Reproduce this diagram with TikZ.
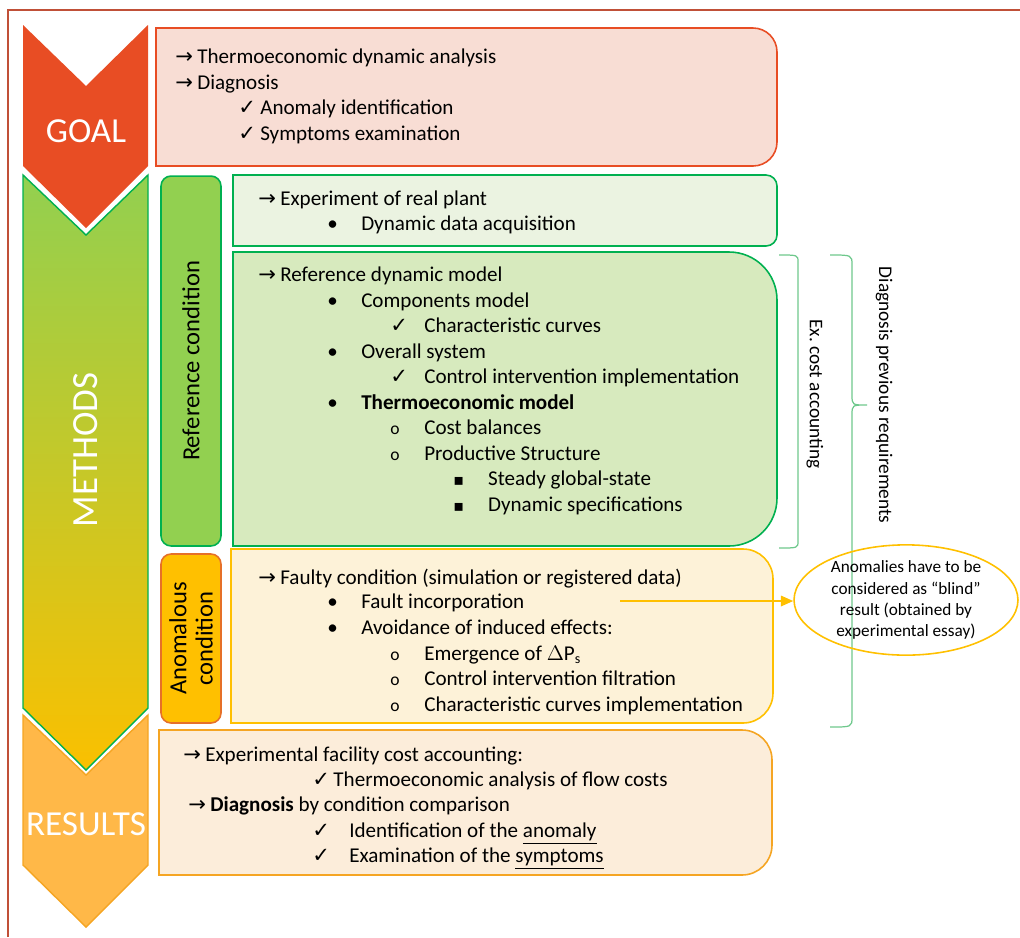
\documentclass[tikz,border=0pt]{standalone}
\usepackage{fontspec}
\setmainfont{Carlito}
\newfontfamily\symfont{DejaVu Sans}
\usetikzlibrary{%
  calc,
  positioning,
  shapes.geometric,
  arrows.meta,
}

\definecolor{framered}{RGB}{192,80,56}
\definecolor{goalred}{RGB}{232,77,36}
\definecolor{goalfill}{RGB}{248,221,212}
\definecolor{methgreen}{RGB}{146,208,80}
\definecolor{methmid}{RGB}{190,200,45}
\definecolor{methyellow}{RGB}{250,192,0}
\definecolor{darkgreen}{RGB}{0,176,80}
\definecolor{expfill}{RGB}{235,243,225}
\definecolor{modelfill}{RGB}{215,234,190}
\definecolor{anomyellow}{RGB}{255,192,0}
\definecolor{anomfill}{RGB}{253,242,216}
\definecolor{anomedge}{RGB}{230,112,40}
\definecolor{resorange}{RGB}{255,184,72}
\definecolor{resedge}{RGB}{245,165,35}
\definecolor{resfill}{RGB}{252,237,218}
\definecolor{bracegreen}{RGB}{110,200,140}

% list markers
\newcommand{\mk}[2]{\makebox[#1][l]{#2}}
\newcommand{\arr}{\mk{12.5pt}{\symfont →}}
\newcommand{\chk}{{\symfont ✓}}
\newcommand{\sqb}{{\symfont\fontsize{9}{10}\selectfont ▪}}
\newcommand{\circb}{{\fontsize{10}{12}\selectfont o}}

% box with square left corners and rounded right corners
% #1 style, #2 x left, #3 y top, #4 x right, #5 y bottom, #6 radius
\newcommand{\rbox}[6]{%
  \draw[#1] (#2,#3) -- ({#4-#6},#3)
    .. controls ({#4-0.448*#6},#3) and (#4,{#3+0.448*#6}) .. (#4,{#3+#6})
    -- (#4,{#5-#6})
    .. controls (#4,{#5-0.448*#6}) and ({#4-0.448*#6},#5) .. ({#4-#6},#5)
    -- (#2,#5) -- cycle;}

\begin{document}
\begin{tikzpicture}[
    x = 0.02cm, y = -0.02cm,
    line/.style = {anchor = base west, inner sep = 0pt,
                   font = \fontsize{12}{14}\selectfont},
    stage/.style = {text = white, inner sep = 0pt,
                    font = \fontsize{20}{22}\selectfont},
    tag/.style = {draw, line width = 0.9pt, rounded corners = 0.2cm,
                  rotate = 90, align = center, inner sep = 0pt,
                  minimum height = 1.2cm,
                  font = \fontsize{14}{15}\selectfont},
    side/.style = {inner sep = 0pt, rotate = -90,
                   font = \fontsize{11}{12}\selectfont},
  ]
  \useasboundingbox (0,0) rectangle (1020,937);

  % frame
  \draw[framered, line width = 1.1pt] (8,937) -- (8,10) -- (1020,10);

  % stage chevrons
  \fill[goalred] (23,25) -- (86,86) -- (148,25) -- (148,166)
    -- (86,228) -- (23,166) -- cycle;
  \draw[darkgreen, line width = 0.8pt, top color = methgreen,
        middle color = methmid, bottom color = methyellow]
    (23,175) -- (86,235) -- (148,175) -- (148,708)
    -- (86,770) -- (23,708) -- cycle;
  \draw[resedge, line width = 0.8pt, fill = resorange]
    (23,715) -- (86,775) -- (148,715) -- (148,865)
    -- (86,927) -- (23,865) -- cycle;

  \node[stage] (goal) at (86,131) {GOAL};
  \node[stage, rotate = 90, font = \fontsize{21}{23}\selectfont]
    (methods) at (86,450) {METHODS};
  \node[stage] (results) at (86,824) {RESULTS};

  % condition tags
  \node[tag, fill = methgreen, draw = darkgreen, minimum width = 7.4cm]
    (refcond) at (191,361) {Reference condition};
  \node[tag, fill = anomyellow, draw = anomedge, minimum width = 3.38cm]
    (anomcond) at (191,638.5) {Anomalous\\condition};

  % content boxes
  \rbox{goalred, fill = goalfill, line width = 0.9pt}{156}{28}{777}{166}{24}
  \rbox{darkgreen, fill = expfill, line width = 0.9pt}{233}{175}{777}{246}{11}
  \rbox{darkgreen, fill = modelfill, line width = 0.9pt}{233}{252}{777}{546}{48}
  \rbox{anomyellow, fill = anomfill, line width = 0.9pt}{231}{549}{773}{723}{30}
  \rbox{resedge, fill = resfill, line width = 0.9pt}{159}{730}{772}{875}{30}

  % goal
  \node[line] (goal1) at (175,63) {\arr Thermoeconomic dynamic analysis};
  \node[line] (goal2) at (175,89) {\arr Diagnosis};
  \node[line] (goal3) at (238,114) {\mk{12.5pt}{\chk}Anomaly identification};
  \node[line] (goal4) at (238,140) {\mk{12.5pt}{\chk}Symptoms examination};

  % experiment
  \node[line] (exp1) at (258,205) {\arr Experiment of real plant};
  \node[line] (exp2) at (327,230) {\mk{19.3pt}{•}Dynamic data acquisition};

  % reference model
  \node[line] (ref1) at (258,281) {\arr Reference dynamic model};
  \node[line] (ref2) at (327,307) {\mk{19.3pt}{•}Components model};
  \node[line] (ref3) at (390,332) {\mk{19.3pt}{\chk}Characteristic curves};
  \node[line] (ref4) at (327,358) {\mk{19.3pt}{•}Overall system};
  \node[line] (ref5) at (390,383) {\mk{19.3pt}{\chk}Control intervention implementation};
  \node[line] (ref6) at (327,409) {\mk{19.3pt}{•}\textbf{Thermoeconomic model}};
  \node[line] (ref7) at (390,434) {\mk{19.3pt}{\circb}Cost balances};
  \node[line] (ref8) at (390,460) {\mk{19.3pt}{\circb}Productive Structure};
  \node[line] (ref9) at (453,485) {\mk{19.8pt}{\sqb}Steady global-state};
  \node[line] (ref10) at (453,511) {\mk{19.8pt}{\sqb}Dynamic specifications};

  % faulty condition
  \node[line] (fault1) at (258,584) {\arr Faulty condition (simulation or registered data)};
  \node[line] (fault2) at (327,608) {\mk{19.3pt}{•}Fault incorporation};
  \node[line] (fault3) at (327,634) {\mk{19.3pt}{•}Avoidance of induced effects:};
  \node[line] (fault4) at (390,660) {\mk{19.3pt}{\circb}Emergence of $\Delta\mathrm{P}_{\mathrm{s}}$};
  \node[line] (fault5) at (390,685) {\mk{19.3pt}{\circb}Control intervention filtration};
  \node[line] (fault6) at (390,711) {\mk{19.3pt}{\circb}Characteristic curves implementation};

  % results
  \node[line] (res1) at (183,761) {\arr Experimental facility cost accounting:};
  \node[line] (res2) at (312,786) {\mk{12pt}{\chk}Thermoeconomic analysis of flow costs};
  \node[line] (res3) at (188,811) {\arr \textbf{Diagnosis} by condition comparison};
  \node[line] (res4) at (312,837) {\mk{21pt}{\chk}Identification of the \underline{anomaly}};
  \node[line] (res5) at (312,862) {\mk{21pt}{\chk}Examination of the \underline{symptoms}};

  % brackets on the right
  \draw[bracegreen, line width = 0.7pt]
    (779,255) .. controls (798,255) .. (798,262) -- (798,541)
    .. controls (798,548) .. (779,548);
  \draw[bracegreen, line width = 0.7pt]
    (830,255) .. controls (852,255) .. (852,265) -- (852,395)
    .. controls (852,405) .. (867,405) .. controls (852,405) .. (852,415)
    -- (852,717) .. controls (852,727) .. (830,727);
  \node[side] (costacc) at (815,394) {Ex.\ cost accounting};
  \node[side] (prevreq) at (884,395) {Diagnosis previous requirements};

  % blind result note
  \node[ellipse, draw = anomyellow, line width = 0.9pt, inner sep = 0pt,
        minimum width = 4.48cm, minimum height = 2.08cm, align = center,
        font = \fontsize{9.8}{12}\selectfont]
    (blind) at (906,600)
    {Anomalies have to be\\considered as “blind”\\result (obtained by\\experimental essay)};
  \coordinate (faultend) at (620,601);
  \draw[anomyellow, line width = 0.9pt, -{Triangle[length = 7pt, width = 6pt]}]
    (faultend) -- (faultend -| blind.west);
\end{tikzpicture}
\end{document}
